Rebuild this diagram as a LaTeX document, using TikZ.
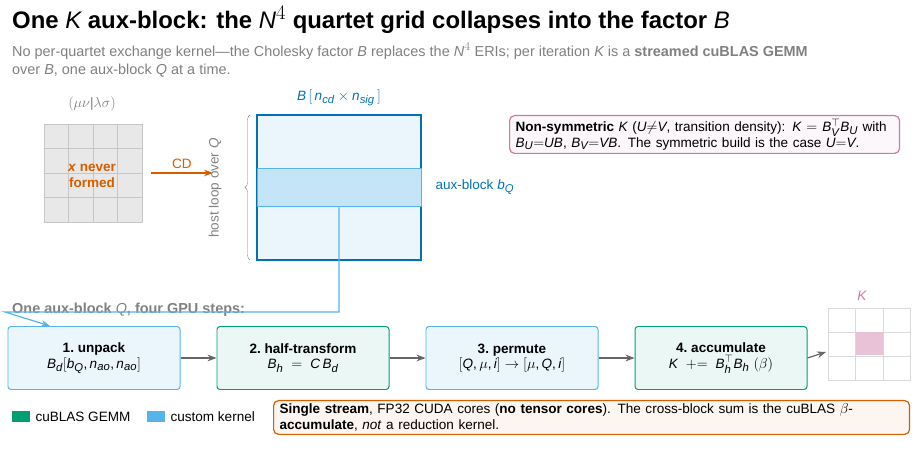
\documentclass[tikz,border=0pt]{standalone}
\usepackage{amsmath,amssymb}
\usepackage{fontspec}
\setmainfont{Liberation Sans}
\usepackage[italic]{mathastext}
\usetikzlibrary{positioning,decorations.pathreplacing,arrows.meta}
\definecolor{cgreen}{HTML}{009E73}
\definecolor{cblue}{HTML}{56B4E9}
\definecolor{cdblue}{HTML}{0072B2}
\definecolor{corange}{HTML}{D55E00}
\definecolor{cpink}{HTML}{CC79A7}
\newcommand{\bodyfont}{\fontsize{13.6}{15.5}\selectfont}
\newcommand{\leadfont}{\fontsize{14.5}{17}\selectfont}
\tikzset{
  gpustep/.style={draw, rounded corners=3pt, line width=1pt, minimum width=172bp, minimum height=63bp, align=center, font=\bodyfont},
  kernel/.style={gpustep, draw=cblue, fill=cblue!12},
  gemm/.style={gpustep, draw=cgreen, fill=cgreen!8},
  flow/.style={-{Stealth[length=9pt]}, line width=1.5pt, gray!80!black},
}
\begin{document}
\begin{tikzpicture}[x=1bp,y=-1bp]
    \useasboundingbox (0,0) rectangle (921,450);
    % Title and subtitle
    \node[anchor=west, font=\bfseries\fontsize{24}{27}\selectfont, inner sep=0] (title) at (12,20) {One $K$ aux-block: the $N^4$ quartet grid collapses into the factor $B$};
    \node[anchor=north west, align=left, text=gray, font=\leadfont, inner sep=0] (sub) at (12,43) {No per-quartet exchange kernel---the Cholesky factor $B$ replaces the $N^4$ ERIs; per iteration $K$ is a \textbf{streamed cuBLAS GEMM}\\[1pt] over $B$, one aux-block $Q$ at a time.};

    % ERI grid, never formed
    \foreach \i in {0,...,3} {
        \foreach \j in {0,...,3} {
            \draw[gray!45, fill=gray!18] (44+24.5*\i,124+24.5*\j) rectangle +(24.5,24.5);
        }
    }
    \node[text=gray, font=\bodyfont] (eri) at (92,104) {$(\mu\nu|\lambda\sigma)$};
    \node[text=corange, font=\bodyfont\bfseries, align=center] (never) at (92,176) {\textit{x} never\\ formed};

    % Cholesky factor B
    \node[draw=cdblue, line width=1.2pt, fill=cblue!12, minimum width=164bp, minimum height=145bp, inner sep=0] (bmat) at (339,187.5) {};
    \node[draw=cblue, line width=1pt, fill=cblue!35, minimum width=164bp, minimum height=38bp, inner sep=0] (band) at (339,188) {};
    \node[text=cdblue, font=\bodyfont] (blab) at (339,98) {$B\,[\,n_{cd}\times n_{sig}\,]$};
    \node[text=cdblue, font=\bodyfont, anchor=west] (bq) at (432,187) {aux-block $b_Q$};
    \coordinate (cdstart) at (151,173);
    \draw[-{Stealth[length=9pt]}, corange, line width=1.4pt] (cdstart) -- ++(62,0) node[midway, above, font=\bodyfont] {CD};
    \draw[decorate, decoration={brace, amplitude=5pt}, gray] (250,260) -- (250,115);
    \node[rotate=90, text=gray, font=\bodyfont] (loop) at (215,188) {host loop over $Q$};

    % Note on non-symmetric K
    \node[draw=cpink, line width=1.2pt, fill=cpink!6, rounded corners=5pt, anchor=north west, align=left, font=\bodyfont, text width=378bp, inner xsep=6pt] (nonsym) at (509,115)
        {\textbf{Non-symmetric} $K$ ($U{\neq}V$, transition density): $K=B_V^{\top}B_U$ with $B_U{=}UB$, $B_V{=}VB$. The symmetric build is the case $U{=}V$.};

    % GPU steps
    \node[text=gray, font=\leadfont\bfseries, anchor=west, inner sep=0] (steps) at (12,310) {One aux-block $Q$, four GPU steps:};
    \node[kernel] (unpack) at (94,358) {\textbf{1.\ unpack}\\ $B_d[b_Q, n_{ao}, n_{ao}]$};
    \node[gemm, right=36bp of unpack] (half) {\textbf{2.\ half-transform}\\ $B_h \;=\; C\,B_d$};
    \node[kernel, right=36bp of half] (perm) {\textbf{3.\ permute}\\ $[Q,\mu,i]\to[\mu,Q,i]$};
    \node[gemm, right=36bp of perm] (acc) {\textbf{4.\ accumulate}\\ $K\;\mathrel{+}=\;B_h^{\top}B_h\;(\beta)$};
    \draw[flow] (unpack) -- (half);
    \draw[flow] (half) -- (perm);
    \draw[flow] (perm) -- (acc);
    \draw[cblue, line width=1.2pt, -{Stealth[length=9pt]}] (band.south) -- (339,312) -- (5,312) -- (unpack.north -| 50,0);

    % K grid
    \foreach \i in {0,...,2} {
        \foreach \j in {0,...,2} {
            \draw[gray!30] (828+27.5*\i,308+24*\j) rectangle +(27.5,24);
        }
    }
    \fill[cpink!45] (856,332.5) rectangle (883,355.5);
    \node[text=cpink, font=\bodyfont] (klab) at (862,296) {$K$};
    \coordinate (kin) at (826,352);
    \draw[flow, line width=1.2pt] (acc.east) -- (kin);

    % Legend
    \fill[cgreen] (12,411) rectangle +(18,11);
    \node[anchor=west, font=\bodyfont] (lg) at (32,417) {cuBLAS GEMM};
    \fill[cblue] (147,411) rectangle +(18,11);
    \node[anchor=west, font=\bodyfont] (lk) at (167,417) {custom kernel};

    % Footer note
    \node[draw=corange, line width=1.2pt, fill=corange!6, rounded corners=5pt, anchor=north west, align=left, font=\bodyfont, text width=624bp, inner xsep=6pt] (foot) at (273,400)
        {\textbf{Single stream}, FP32 CUDA cores (\textbf{no tensor cores}). The cross-block sum is the cuBLAS $\beta$-\textbf{accumulate}, \emph{not} a reduction kernel.};
\end{tikzpicture}
\end{document}
